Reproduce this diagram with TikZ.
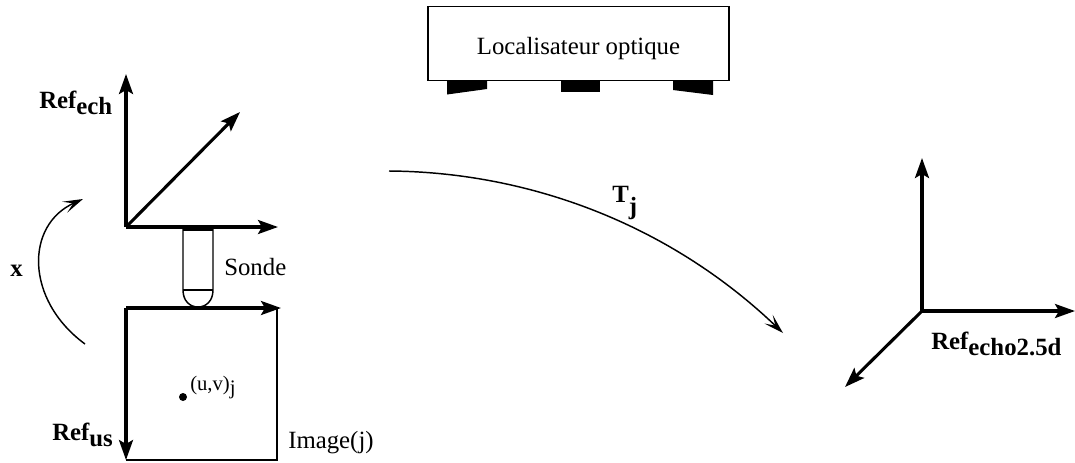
\documentclass[tikz,border=0pt]{standalone}
\usepackage{fontspec}
\setmainfont{Liberation Serif}
\usetikzlibrary{arrows.meta}
\tikzset{
  axis/.style={-{Stealth[length=15pt, width=10.5pt, inset=3pt]}, line width=2.3pt},
  curve/.style={-{Stealth[length=15pt, width=9pt, inset=7pt]}, line width=1.1pt},
  outline/.style={line width=1.1pt},
  lbl/.style={anchor=base west, inner sep=0pt, font=\fontsize{18.6}{20}\selectfont},
  blbl/.style={lbl, font=\fontsize{18.6}{20}\selectfont\bfseries},
  foot/.style={fill=black, draw=none},
  locbox/.style={draw, line width=1.3pt, minimum width=226pt, minimum height=55.5pt, inner sep=0pt, text height=15.8pt, text depth=0pt, font=\fontsize{18.6}{20}\selectfont}
}
\newcommand{\lowsub}[1]{\raisebox{-5.2pt}{#1}}

\begin{document}
\begin{tikzpicture}[x=.75pt, y=-.75pt]
        \useasboundingbox (0,0) rectangle (1075,462);
        % optical tracker
        \node[locbox] (loc) at (578.5,43.5) {Localisateur optique};
        \fill[foot] (447,81) -- (487,81) -- (487,89) -- (447,94.5) -- cycle;
        \fill[foot] (561,81) -- (600,81) -- (600,92) -- (561,92) -- cycle;
        \fill[foot] (673,81) -- (713,81) -- (713,95) -- (673,90) -- cycle;
        % upper frame
        \coordinate (ech) at (126,227);
        \coordinate (echup) at (126,74);
        \coordinate (echdiag) at (240,112);
        \coordinate (echright) at (278,227);
        \draw[axis] (ech) -- (echup);
        \draw[axis] (ech) -- (echdiag);
        \draw[axis] (ech) -- (echright);
        \node[blbl] (refech) at (39,108) {Ref\lowsub{ech}};
        % probe
        \coordinate (probetl) at (183,228);
        \coordinate (probetr) at (213,228);
        \coordinate (probebl) at (183,290);
        \coordinate (probebr) at (213,290);
        \coordinate (probetip) at (198,307);
        \fill (183,227) rectangle (213,231);
        \draw[outline] (probetl) -- (probebl) .. controls (183,301) and (190,307) .. (probetip)
          .. controls (206,307) and (213,301) .. (probebr) -- (probetr);
        \draw[outline] (probebl) -- (probebr);
        \node[lbl] (sonde) at (224,275) {Sonde};
        % image frame
        \coordinate (us) at (126,308);
        \coordinate (usright) at (281,308);
        \coordinate (usdown) at (126,460);
        \coordinate (imgtr) at (277,308);
        \coordinate (imgbr) at (277,460);
        \draw[outline] (imgtr) -- (imgbr) -- (usdown);
        \draw[axis] (us) -- (usright);
        \draw[axis] (us) -- (usdown);
        \node[blbl] (refus) at (52,440) {Ref\lowsub{us}};
        \node[lbl] (image) at (288,448) {Image(j)};
        \node[fill, circle, inner sep=0pt, minimum size=6pt] (pixel) at (183,397) {};
        \node[lbl, font=\fontsize{15.5}{17}\selectfont] (uv) at (190,390) {(u,v)\raisebox{-3.5pt}{j}};
        % rotation
        \coordinate (rotstart) at (85,344);
        \coordinate (rotend) at (83,199);
        \draw[curve] (rotstart) .. controls (25,300) and (25,225) .. (rotend);
        \node[blbl] (rotx) at (10,276) {x};
        % transform
        \coordinate (tstart) at (389,171);
        \coordinate (tend) at (783,333);
        \draw[curve] (tstart) .. controls (530,172) and (670,225) .. (tend);
        \node[blbl] (tj) at (612,202) {T\raisebox{-9.5pt}{j}};
        % right frame
        \coordinate (echo) at (922,311);
        \coordinate (echoup) at (922,158);
        \coordinate (echoright) at (1075,311);
        \coordinate (echodiag) at (845,387);
        \draw[axis] (echo) -- (echoup);
        \draw[axis] (echo) -- (echoright);
        \draw[axis] (echo) -- (echodiag);
        \node[blbl] (refecho) at (931,349) {Ref\lowsub{echo2.5d}};
      \end{tikzpicture}
\end{document}
